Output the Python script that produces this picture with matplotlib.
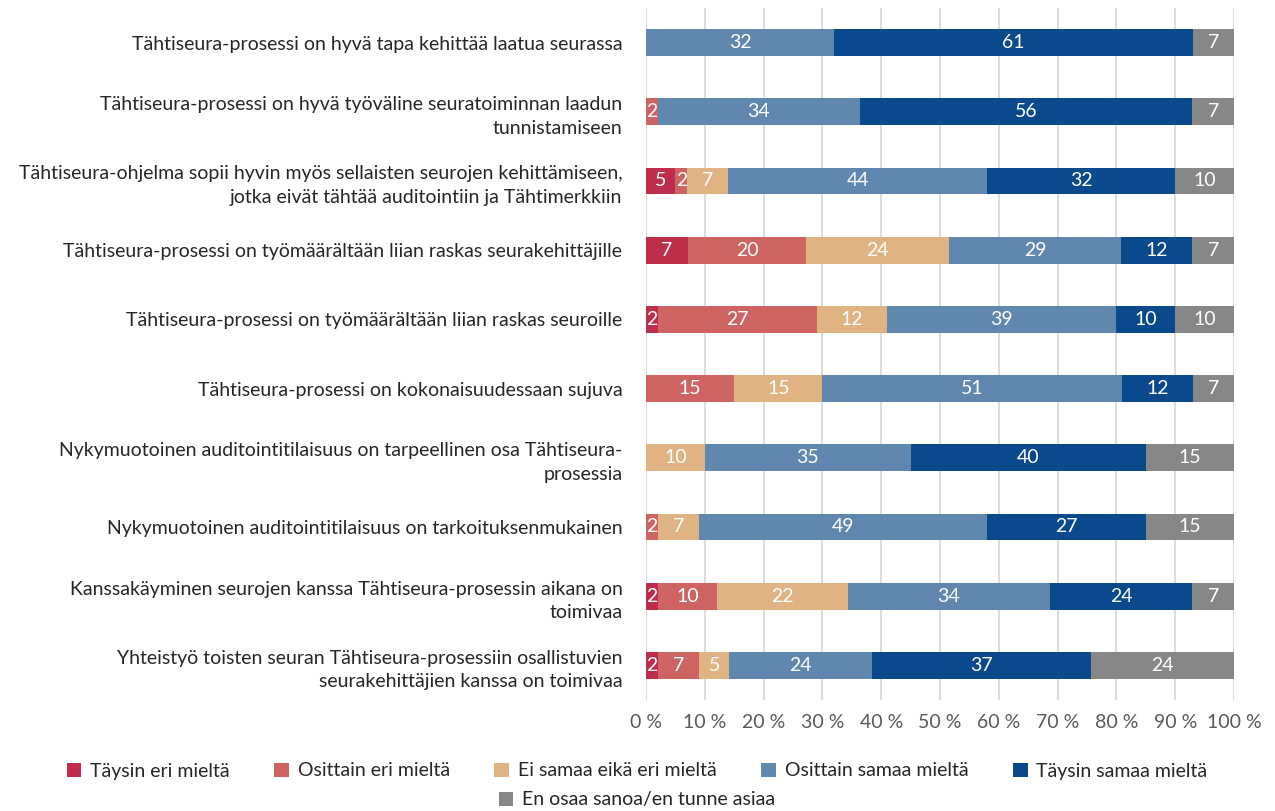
import matplotlib
matplotlib.use("Agg")
import matplotlib.pyplot as plt
from matplotlib.patches import Patch
import numpy as np

plt.rcParams['font.family'] = ['Lato', 'DejaVu Sans']

categories = [
    "Tähtiseura-prosessi on hyvä tapa kehittää laatua seurassa",
    "Tähtiseura-prosessi on hyvä työväline seuratoiminnan laadun\ntunnistamiseen",
    "Tähtiseura-ohjelma sopii hyvin myös sellaisten seurojen kehittämiseen,\njotka eivät tähtää auditointiin ja Tähtimerkkiin",
    "Tähtiseura-prosessi on työmäärältään liian raskas seurakehittäjille",
    "Tähtiseura-prosessi on työmäärältään liian raskas seuroille",
    "Tähtiseura-prosessi on kokonaisuudessaan sujuva",
    "Nykymuotoinen auditointitilaisuus on tarpeellinen osa Tähtiseura-\nprosessia",
    "Nykymuotoinen auditointitilaisuus on tarkoituksenmukainen",
    "Kanssakäyminen seurojen kanssa Tähtiseura-prosessin aikana on\ntoimivaa",
    "Yhteistyö toisten seuran Tähtiseura-prosessiin osallistuvien\nseurakehittäjien kanssa on toimivaa",
]

series_names = [
    "Täysin eri mieltä",
    "Osittain eri mieltä",
    "Ei samaa eikä eri mieltä",
    "Osittain samaa mieltä",
    "Täysin samaa mieltä",
    "En osaa sanoa/en tunne asiaa",
]

taysin_eri = [0, 0, 5, 7, 2, 0, 0, 0, 2, 2]
osittain_eri = [0, 2, 2, 20, 27, 15, 0, 2, 10, 7]
ei_samaa = [0, 0, 7, 24, 12, 15, 10, 7, 22, 5]
osittain_samaa = [32, 34, 44, 29, 39, 51, 35, 49, 34, 24]
taysin_samaa = [61, 56, 32, 12, 10, 12, 40, 27, 24, 37]
en_osaa = [7, 7, 10, 7, 10, 7, 15, 15, 7, 24]

colors = ["#BE2D4A", "#CD6462", "#DFB482", "#6088AE", "#0A4A8C", "#878787"]

data = np.array([taysin_eri, osittain_eri, ei_samaa, osittain_samaa, taysin_samaa, en_osaa], dtype=float)
totals = data.sum(axis=0)
shares = data / totals * 100

fig = plt.figure(figsize=(12.75, 8.11), dpi=100)
ax = fig.add_axes([646/1275, 1-700/811, (1234-646)/1275, 692/811])

y = np.arange(len(categories))
left = np.zeros(len(categories))
for i in range(len(series_names)):
    ax.barh(y, shares[i], left=left, height=0.39, color=colors[i], label=series_names[i], zorder=3)
    for j in range(len(categories)):
        if data[i, j] > 0:
            ax.text(left[j] + shares[i, j] / 2, y[j], f"{int(data[i, j])}", ha='center', va='center',
                    color='white', fontsize=14, zorder=4)
    left += shares[i]

ax.set_xlim(0, 100)
ax.set_ylim(len(categories) - 0.5, -0.5)
ax.set_xticks(np.arange(0, 101, 10))
ax.set_xticklabels([f"{v} %" for v in range(0, 101, 10)], fontsize=14, color='#595959')
ax.set_yticks(y)
ax.set_yticklabels(categories, fontsize=14, color='#262626', linespacing=1.45)
ax.tick_params(axis='y', length=0, pad=17)
ax.tick_params(axis='x', length=0, pad=10)
ax.grid(axis='x', color='#D9D9D9', linewidth=1.3, zorder=0)
for s in ax.spines.values():
    s.set_visible(False)

handles = [Patch(facecolor=c, edgecolor='none') for c in colors]
fig.legend(handles[:5], series_names[:5], loc='center', bbox_to_anchor=(637/1275, 1-771/811),
           ncol=5, frameon=False, fontsize=14, handlelength=0.75, handleheight=0.75,
           handletextpad=0.45, columnspacing=2.3, labelcolor='#262626')
fig.legend(handles[5:], series_names[5:], loc='center', bbox_to_anchor=(637/1275, 1-800/811),
           ncol=1, frameon=False, fontsize=14, handlelength=0.75, handleheight=0.75,
           handletextpad=0.45, labelcolor='#262626')

fig.savefig("out.png", dpi=100)
